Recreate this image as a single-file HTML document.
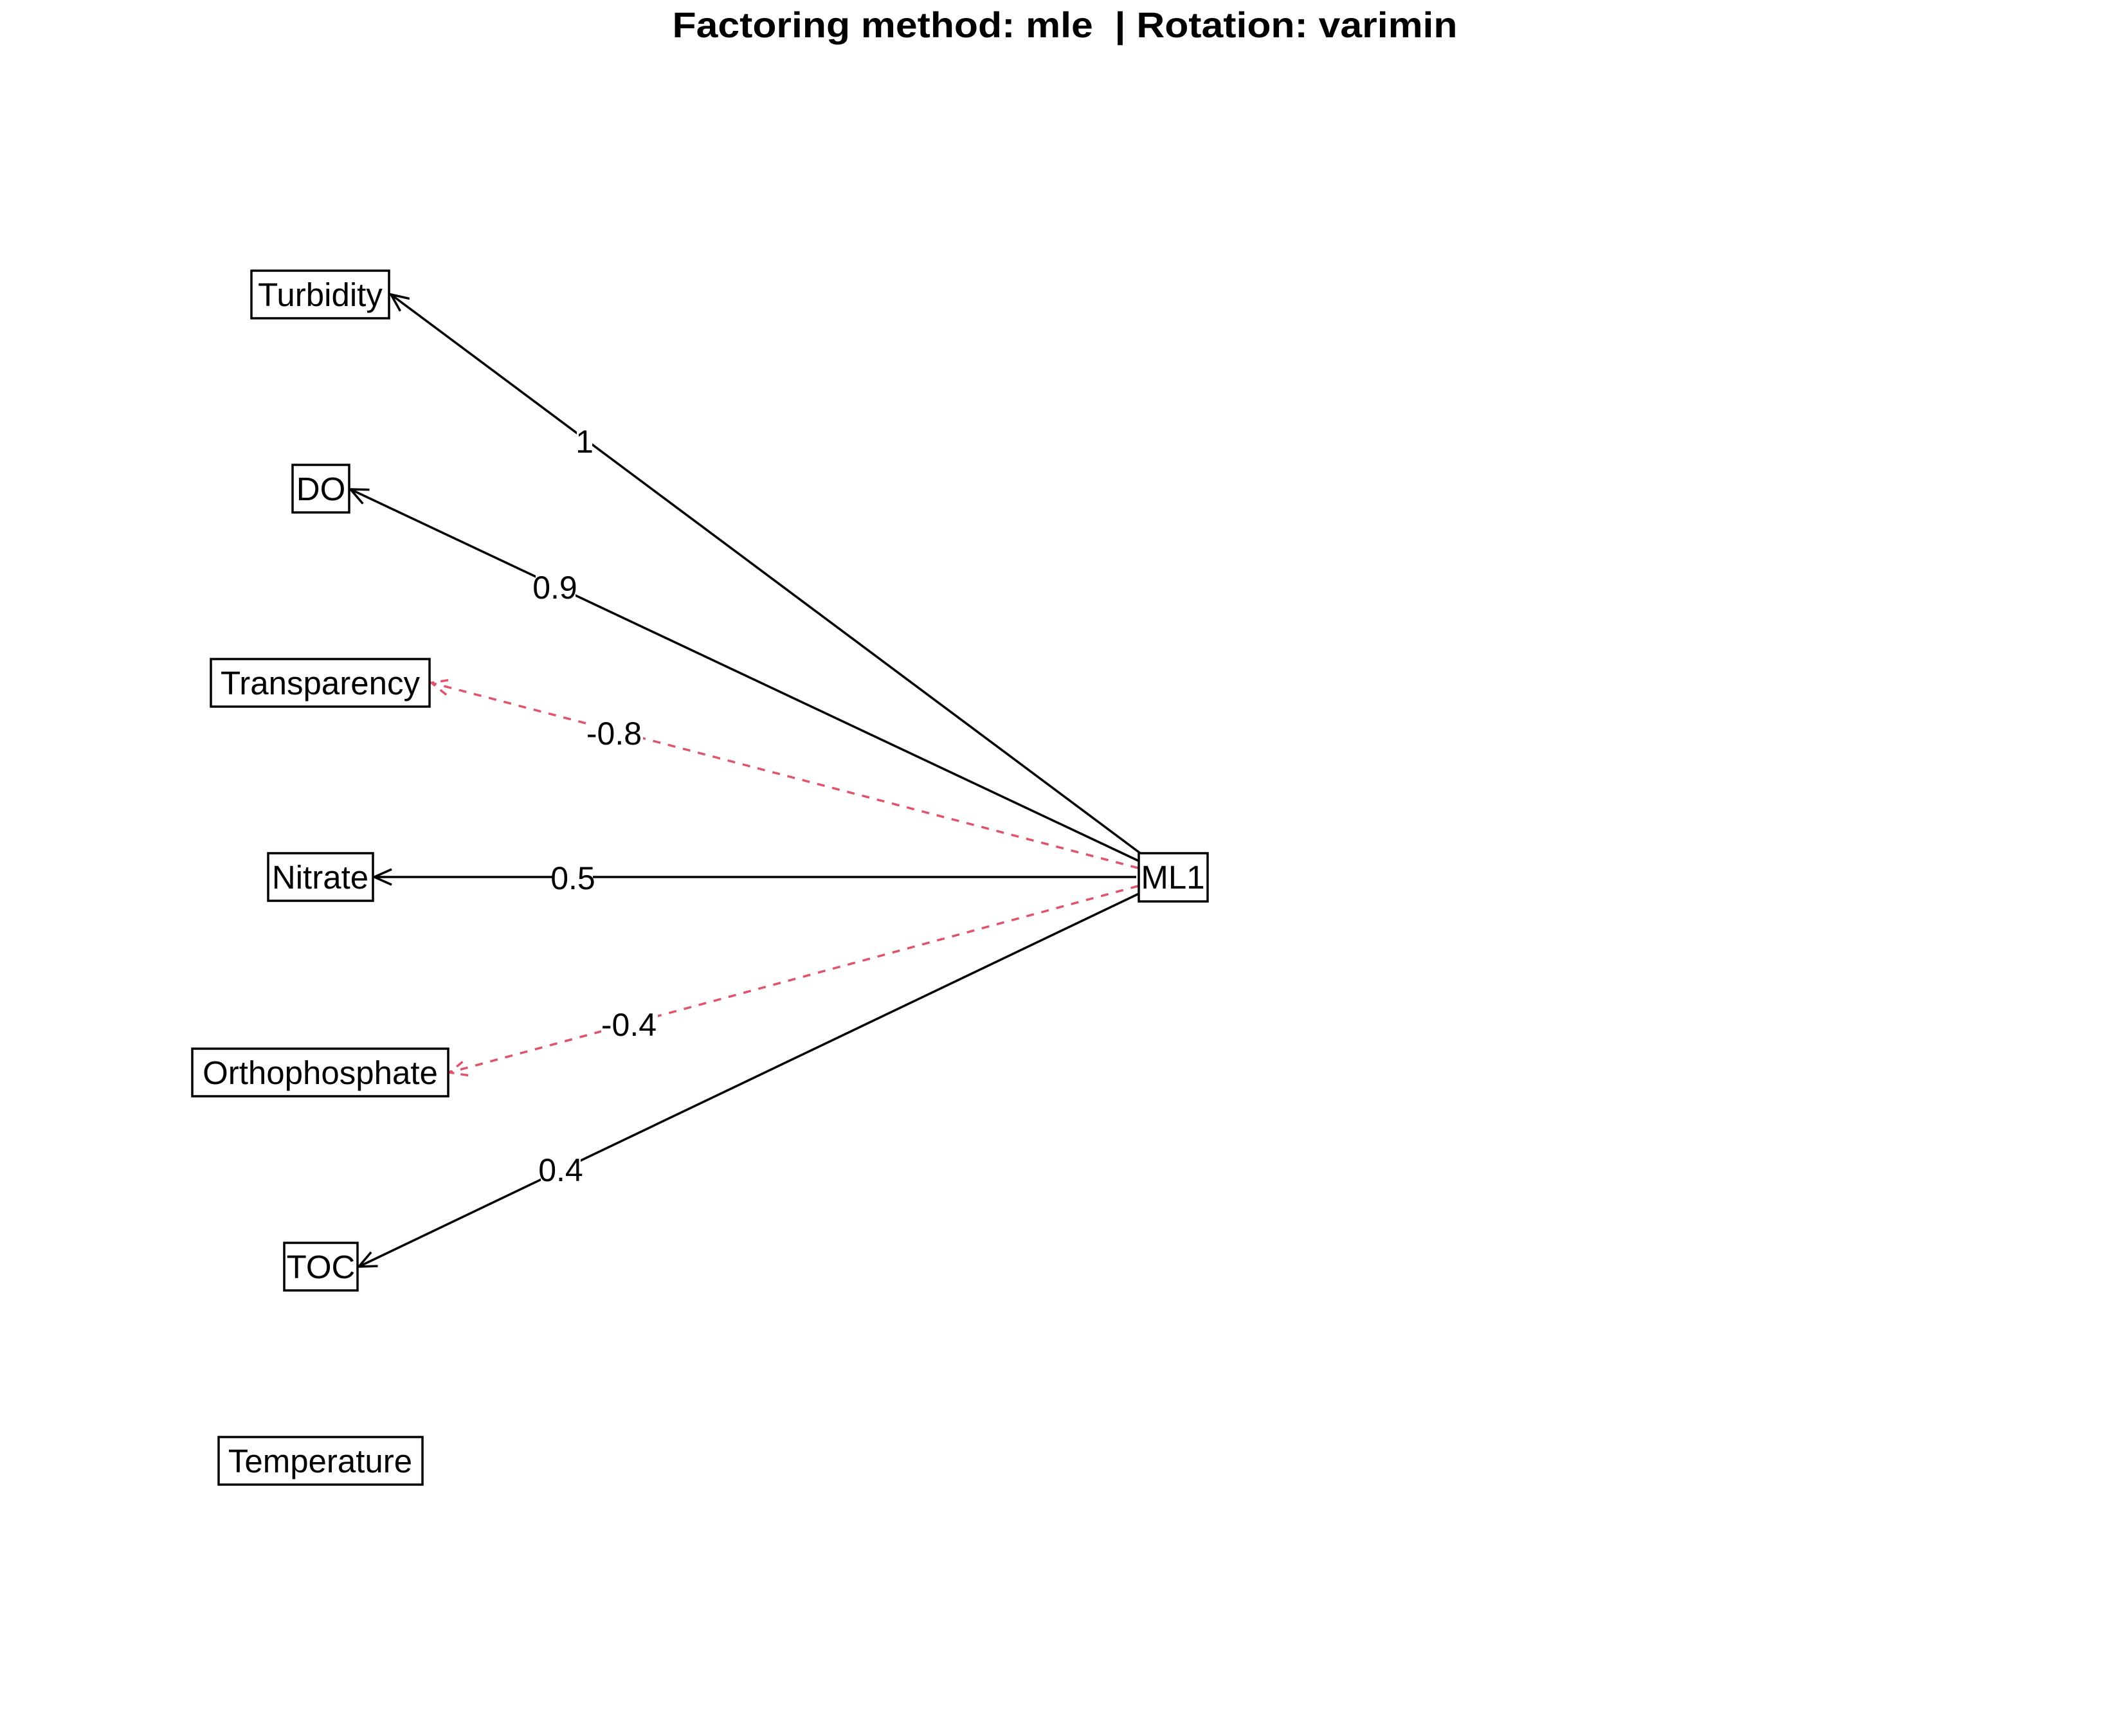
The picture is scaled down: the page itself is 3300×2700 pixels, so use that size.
<!DOCTYPE html>
<html><head><meta charset="utf-8"><style>
html,body{margin:0;padding:0;background:#fff;}
svg{display:block;}
text{font-family:"Liberation Sans",Arial,sans-serif;}
</style></head><body>
<svg width="3300" height="2700" viewBox="0 0 3300 2700" xmlns="http://www.w3.org/2000/svg">
<defs>
<marker id="ab" markerUnits="userSpaceOnUse" markerWidth="60" markerHeight="60" refX="0" refY="0" viewBox="-40 -30 60 60" orient="auto" overflow="visible">
<path d="M -27 -12 L 0 0 L -27 12" fill="none" stroke="#000" stroke-width="3.5"/>
</marker>
<marker id="ar" markerUnits="userSpaceOnUse" markerWidth="60" markerHeight="60" refX="0" refY="0" viewBox="-40 -30 60 60" orient="auto" overflow="visible">
<path d="M -27 -12 L 0 0 L -27 12" fill="none" stroke="#DF536B" stroke-width="3.5" stroke-dasharray="12 10"/>
</marker>
</defs>
<rect width="3300" height="2700" fill="#fff"/>
<text x="1656" y="58" font-size="56" font-weight="bold" text-anchor="middle" textLength="1221" lengthAdjust="spacingAndGlyphs">Factoring method: mle&#160; | Rotation: varimin</text>

<g stroke-width="3.5" fill="none">
<line x1="1780" y1="1332" x2="608" y2="458" stroke="#000" marker-end="url(#ab)"/>
<line x1="1773" y1="1340" x2="545" y2="761" stroke="#000" marker-end="url(#ab)"/>
<line x1="1770" y1="1350" x2="671" y2="1062" stroke="#DF536B" stroke-dasharray="12 12" marker-end="url(#ar)"/>
<line x1="1767" y1="1364" x2="582" y2="1364" stroke="#000" marker-end="url(#ab)"/>
<line x1="1770" y1="1378" x2="699" y2="1668" stroke="#DF536B" stroke-dasharray="12 12" marker-end="url(#ar)"/>
<line x1="1773" y1="1389" x2="558" y2="1970" stroke="#000" marker-end="url(#ab)"/>
</g>

<g font-size="50" text-anchor="middle">
<rect x="897" y="667" width="24" height="38" fill="#fff"/>
<text x="909" y="704">1</text>
<rect x="833" y="894" width="62" height="38" fill="#fff"/>
<text x="863" y="931">0.9</text>
<rect x="912" y="1121" width="88" height="38" fill="#fff"/>
<text x="955" y="1158">-0.8</text>
<rect x="860" y="1346" width="62" height="38" fill="#fff"/>
<text x="891" y="1383">0.5</text>
<rect x="935" y="1574" width="88" height="38" fill="#fff"/>
<text x="978" y="1611">-0.4</text>
<rect x="841" y="1800" width="62" height="38" fill="#fff"/>
<text x="872" y="1837">0.4</text>
</g>

<g fill="#fff" stroke="#000" stroke-width="3.5">
<rect x="391" y="421" width="214" height="74"/>
<rect x="455" y="723" width="88" height="74"/>
<rect x="328" y="1025" width="340" height="74"/>
<rect x="417" y="1327" width="163" height="74"/>
<rect x="299" y="1631" width="398" height="74"/>
<rect x="442" y="1933" width="114" height="74"/>
<rect x="340" y="2235" width="317" height="74"/>
<rect x="1771" y="1327" width="107" height="75"/>
</g>
<g font-size="51" text-anchor="middle">
<text x="498" y="476">Turbidity</text>
<text x="499" y="778">DO</text>
<text x="498" y="1080">Transparency</text>
<text x="498" y="1382">Nitrate</text>
<text x="498" y="1686">Orthophosphate</text>
<text x="499" y="1988">TOC</text>
<text x="498" y="2290">Temperature</text>
<text x="1824" y="1382">ML1</text>
</g>
</svg>
</body></html>
